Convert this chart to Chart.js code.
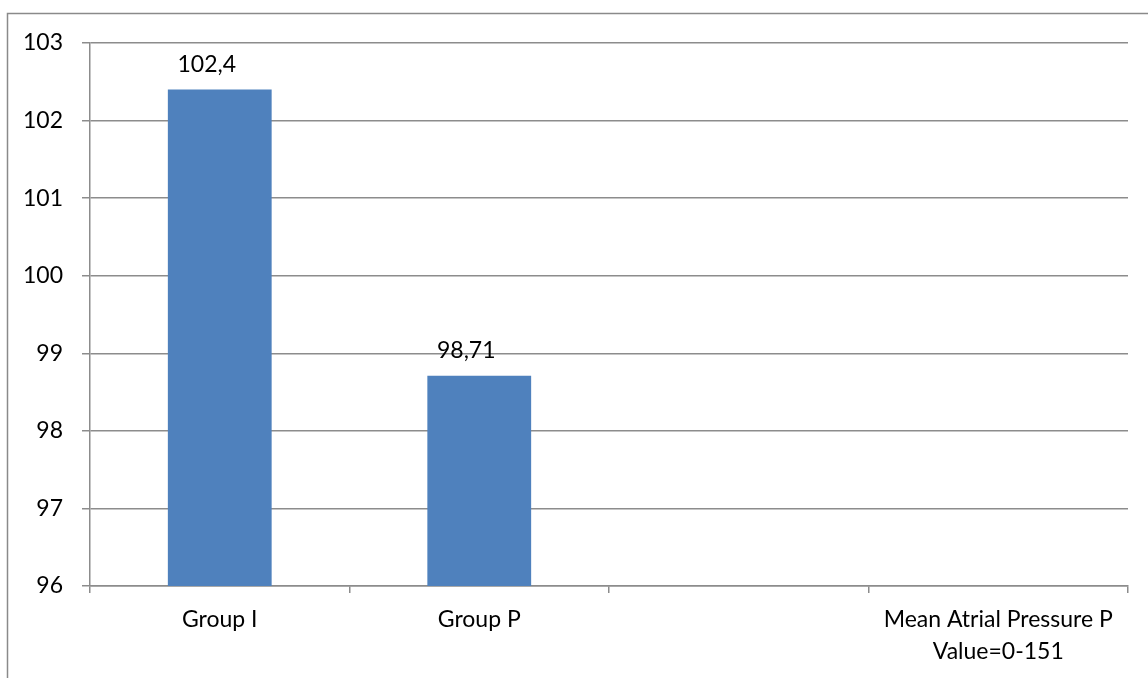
<!DOCTYPE html>
<html>
<head>
<meta charset="utf-8">
<script src="https://cdn.jsdelivr.net/npm/chart.js@4.4.0/dist/chart.umd.min.js"></script>
<style>
    html, body { margin: 0; padding: 0; background: #fff; overflow: hidden; }
    #wrap { position: relative; width: 1148px; height: 678px; }
</style>
</head>
<body>
<div id="wrap"><canvas id="chart" width="1148" height="678"></canvas></div>
<script>
// ---------- data ----------
const categories = [
    'Group I',
    'Group P',
    '',
    ['Mean Atrial Pressure P', 'Value=0-151']
];
const pressureValues = [102.4, 98.71, null, null];
const yTicks = [96, 97, 98, 99, 100, 101, 102, 103];

const FONT = 'Lato, Carlito, Calibri, sans-serif';
const FONT_SIZE = 23;
const GRID = '#8c8c8c';

/* outer frame of the chart object */
const framePlugin = {
    id: 'frame',
    beforeDraw(chart) {
        const ctx = chart.ctx;
        ctx.save();
        ctx.strokeStyle = '#8a8a8a';
        ctx.lineWidth = 1.5;
        ctx.strokeRect(7.5, 13.5, 2000, 2000);
        ctx.restore();
    }
};

/* value labels above bars, decimal comma */
const valueLabels = {
    id: 'valueLabels',
    afterDatasetsDraw(chart) {
        const ctx = chart.ctx;
        const meta = chart.getDatasetMeta(0);
        ctx.save();
        ctx.font = FONT_SIZE + 'px ' + FONT;
        ctx.fillStyle = '#000';
        ctx.textAlign = 'center';
        ctx.textBaseline = 'middle';
        meta.data.forEach((bar, i) => {
            const v = pressureValues[i];
            if (v == null) return;
            ctx.fillText(String(v).replace('.', ','), bar.x - 13, bar.y - 25);
        });
        ctx.restore();
    }
};

new Chart(document.getElementById('chart').getContext('2d'), {
    type: 'bar',
    data: {
        labels: categories,
        datasets: [{
            data: pressureValues,
            backgroundColor: '#4f81bd',
            borderWidth: 0,
            barPercentage: 0.4,
            categoryPercentage: 1.0
        }]
    },
    options: {
        responsive: false,
        animation: false,
        layout: { padding: { left: 0, top: 43, right: 20, bottom: 0 } },
        plugins: {
            legend: { display: false },
            tooltip: { enabled: false }
        },
        scales: {
            x: {
                offset: true,
                afterFit(scale) { scale.height = 92; },
                grid: {
                    offset: true,
                    drawOnChartArea: false,
                    drawTicks: true,
                    tickLength: 7,
                    color: GRID,
                    lineWidth: 1.5
                },
                border: { color: GRID, width: 1.5 },
                ticks: {
                    color: '#000',
                    padding: 11,
                    maxRotation: 0,
                    autoSkip: false,
                    font: { family: FONT, size: FONT_SIZE, lineHeight: 32 / FONT_SIZE }
                }
            },
            y: {
                min: yTicks[0],
                max: yTicks[yTicks.length - 1],
                afterFit(scale) { scale.width = 90; },
                afterBuildTicks(scale) {
                    scale.ticks = yTicks.map(v => ({ value: v }));
                },
                grid: {
                    color: GRID,
                    lineWidth: 1.5,
                    drawTicks: true,
                    tickLength: 8
                },
                border: { color: GRID, width: 1.5 },
                ticks: {
                    color: '#000',
                    padding: 19,
                    font: { family: FONT, size: FONT_SIZE }
                }
            }
        }
    },
    plugins: [framePlugin, valueLabels]
});
</script>
</body>
</html>
